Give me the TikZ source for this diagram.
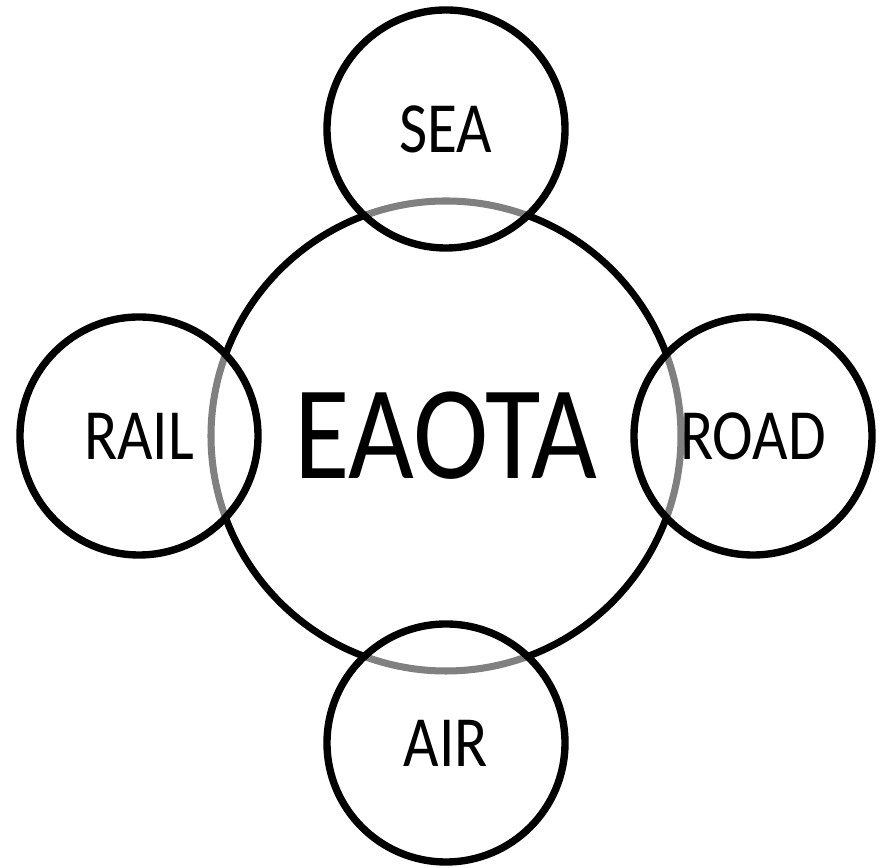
\documentclass[tikz,border=0pt]{standalone}
\usepackage{fontspec}
\setmainfont[FakeStretch=0.85]{Carlito}
\usepackage{tikz}
\usetikzlibrary{positioning}
\tikzstyle{hub}=[
	circle,
	draw=black,
	line width=4pt,
	outer sep=0,
	minimum size=9.4cm,
	font=\fontsize{76}{82}\selectfont]
\tikzstyle{mode}=[
	circle,
	draw=black,
	line width=4.2pt,
	outer sep=0,
	fill=white,
	fill opacity=.5,
	text opacity=1,
	minimum size=4.76cm,
	font=\fontsize{41}{46}\selectfont]

\begin{document}
\begin{tikzpicture}
	\useasboundingbox (0,0) rectangle (17.7,17.36);
	\begin{scope}[node distance=-.94cm]
	\node[hub]	(eaota)	at (8.92,8.64)	{EAOTA};
	\node[mode]	(sea)	[above=of eaota]	{SEA};
	\node[mode]	(rail)	[left=of eaota]		{RAIL};
	\node[mode]	(road)	[right=of eaota]	{ROAD};
	\node[mode]	(air)	[below=of eaota]	{AIR};
	\end{scope}
\end{tikzpicture}
\end{document}
